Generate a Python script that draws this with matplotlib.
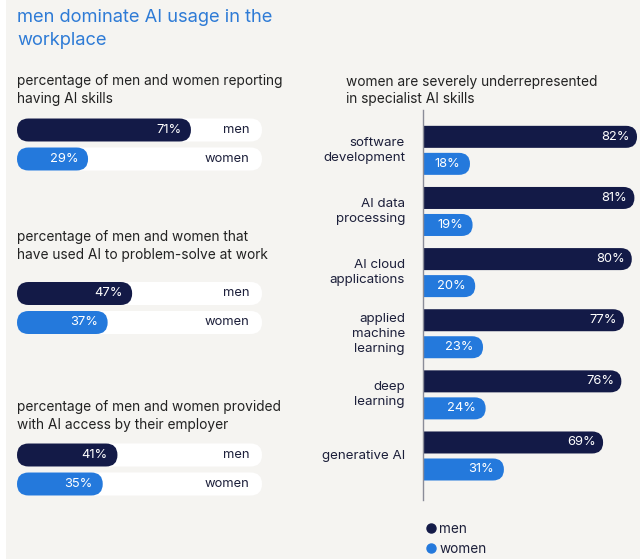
import matplotlib
matplotlib.use("Agg")
import matplotlib.pyplot as plt
from matplotlib.patches import FancyBboxPatch, Rectangle
from matplotlib.lines import Line2D

plt.rcParams['font.family'] = ['Inter', 'DejaVu Sans']

# data
left_titles = [
    ["percentage of men and women reporting", "having AI skills"],
    ["percentage of men and women that", "have used AI to problem-solve at work"],
    ["percentage of men and women provided", "with AI access by their employer"],
]
left_men = [71, 47, 41]
left_women = [29, 37, 35]

skills = ["software\ndevelopment", "AI data\nprocessing", "AI cloud\napplications",
          "applied\nmachine\nlearning", "deep\nlearning", "generative AI"]
skills_men = [82, 81, 80, 77, 76, 69]
skills_women = [18, 19, 20, 23, 24, 31]

NAVY = "#131a47"
BLUE = "#2479dc"
TEXT = "#1c1f3a"
BG = "#f5f4f1"
W, H = 640, 559

fig = plt.figure(figsize=(6.4, 5.59), dpi=100, facecolor=BG)
# thin white strip on the left edge
fig.patches.append(Rectangle((0, 0), 6 / W, 1, transform=fig.transFigure,
                             facecolor="white", edgecolor="none", zorder=-1))


def px_axes(x, top, w, h):
    return fig.add_axes([x / W, 1 - (top + h) / H, w / W, h / H])


def scale(ax, w_px, h_px):
    x0, x1 = ax.get_xlim()
    y0, y1 = ax.get_ylim()
    return w_px / abs(x1 - x0), h_px / abs(y1 - y0)


def rounded_bar(ax, x0, x1, y, h, color, sx, sy, z=2, clip=True):
    r_px = h * sy / 2
    r = r_px / sx
    p = FancyBboxPatch((x0, y - h / 2), x1 - x0, h,
                       boxstyle=f"round,pad=0,rounding_size={r}",
                       mutation_aspect=sx / sy, facecolor=color,
                       edgecolor="none", zorder=z, clip_on=clip)
    ax.add_patch(p)


# title
fig.text(17 / W, 1 - 22 / H, "men dominate AI usage in the", color="#2e7bd6",
         fontsize=13.2, va="baseline")
fig.text(17 / W, 1 - 45 / H, "workplace", color="#2e7bd6",
         fontsize=13.2, va="baseline")

# left panels
sub_base = [85, 241, 411]
bar_top = [115.5, 279, 440.5]
for i in range(3):
    fig.text(17 / W, 1 - sub_base[i] / H, left_titles[i][0], fontsize=9.9,
             color="#222222", va="baseline")
    fig.text(17 / W, 1 - (sub_base[i] + 17.5) / H, left_titles[i][1], fontsize=9.9,
             color="#222222", va="baseline")
    ax = px_axes(17, bar_top[i], 245, 58)
    ax.set_xlim(0, 100)
    ax.set_ylim(1.5, -0.5)
    ax.axis("off")
    sx, sy = scale(ax, 245, 58)
    bh = 23 / 29
    for row, (val, col, lab) in enumerate([(left_men[i], NAVY, "men"),
                                            (left_women[i], BLUE, "women")]):
        rounded_bar(ax, 0, 100, row, bh, "white", sx, sy, z=1, clip=False)
        rounded_bar(ax, 0, val, row, bh, col, sx, sy, z=2, clip=False)
        ax.annotate(f"{val}%", (val, row), xytext=(-7, 0), textcoords="offset points",
                    ha="right", va="center", color="white", fontsize=9.3, zorder=3)
        ax.annotate(lab, (100, row), xytext=(-9, 0), textcoords="offset points",
                    ha="right", va="center", color=TEXT, fontsize=9.3, zorder=3)

# right panel
fig.text(346 / W, 1 - 86 / H, "women are severely underrepresented", fontsize=9.9,
         color="#222222", va="baseline")
fig.text(346 / W, 1 - 103 / H, "in specialist AI skills", fontsize=9.9,
         color="#222222", va="baseline")

axr = px_axes(423, 110, 217, 390)
axr.set_facecolor("none")
axr.set_xlim(0, 217 / 261 * 100)
axr.set_ylim(5.72, -0.66)
for s in ["top", "right", "bottom"]:
    axr.spines[s].set_visible(False)
axr.spines["left"].set_color("#8a8c98")
axr.spines["left"].set_linewidth(1)
axr.set_xticks([])
axr.set_yticks([])
sx, sy = scale(axr, 217, 390)
bh = 22 / 61.1
off = 13.5 / 61.1
for i, name in enumerate(skills):
    rounded_bar(axr, -10, skills_men[i], i - off, bh, NAVY, sx, sy)
    rounded_bar(axr, -10, skills_women[i], i + off, bh, BLUE, sx, sy)
    axr.annotate(f"{skills_men[i]}%", (skills_men[i], i - off), xytext=(-5, 0),
                 textcoords="offset points", ha="right", va="center",
                 color="white", fontsize=9.3)
    axr.annotate(f"{skills_women[i]}%", (skills_women[i], i + off), xytext=(-7, 0),
                 textcoords="offset points", ha="right", va="center",
                 color="white", fontsize=9.3)
    axr.annotate(name, (0, i), xytext=(-13, 0), textcoords="offset points",
                 ha="right", va="center", multialignment="right",
                 color=TEXT, fontsize=9.6, linespacing=1.35, annotation_clip=False)

handles = [Line2D([], [], marker="o", ls="", color=NAVY, markersize=6.5),
           Line2D([], [], marker="o", ls="", color=BLUE, markersize=6.5)]
fig.legend(handles, ["men", "women"], loc="upper left",
           bbox_to_anchor=(419 / W, 1 - 515 / H), frameon=False, fontsize=9.8,
           handlelength=0.7, handletextpad=0.3, labelspacing=0.45, borderpad=0,
           labelcolor=TEXT)

fig.savefig("out.png", dpi=100, facecolor=BG)
